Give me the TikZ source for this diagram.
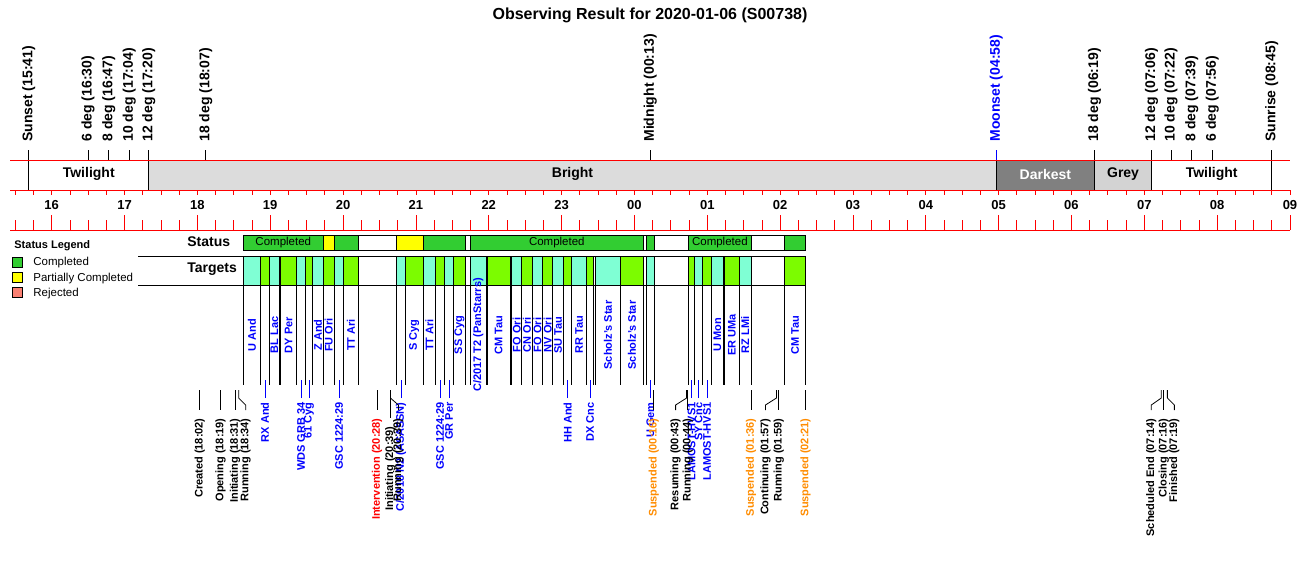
\documentclass[tikz,border=0pt]{standalone}
\usepackage{fontspec}
\setmainfont{Liberation Sans}
\definecolor{bright}{RGB}{220,220,220}
\definecolor{darkest}{RGB}{128,128,128}
\definecolor{greyband}{RGB}{211,211,211}
\definecolor{done}{RGB}{50,205,50}
\definecolor{partial}{RGB}{255,255,0}
\definecolor{rejected}{RGB}{250,128,114}
\definecolor{tgtA}{RGB}{127,255,212}
\definecolor{tgtB}{RGB}{124,252,0}
\definecolor{susp}{RGB}{255,140,0}
\newcommand{\fs}[1]{\fontsize{#1}{#1}\selectfont}

\begin{document}
\begin{tikzpicture}[x=1pt,y=-1pt,line width=0.8pt,
    declare function={tx(\hr,\mn)=51.7+72.84*(mod(\hr+9,24)-1+\mn/60);},
    toplbl/.style={rotate=90,anchor=west,inner sep=0pt,font=\fs{14}\bfseries},
    bandlbl/.style={font=\fs{14}\bfseries},
    hourlbl/.style={font=\fs{13}\bfseries},
    rowlbl/.style={anchor=west,inner sep=0pt,font=\fs{14}\bfseries},
    leglbl/.style={anchor=west,inner sep=0pt,font=\fs{11.5}},
    tgtlbl/.style={rotate=90,inner sep=0pt,text=blue,font=\fs{11}\bfseries},
    evlbl/.style={rotate=90,anchor=east,inner sep=0pt,font=\fs{11}\bfseries}]
\useasboundingbox (0,0) rectangle (1300,560);

\node[font=\fs{16}\bfseries] (title) at (650,15) {Observing Result for 2020-01-06 (S00738)};

% sky band
\fill[bright] ({tx(17,20)},160) rectangle ({tx(4,58)},190);
\fill[darkest] ({tx(4,58)},160) rectangle ({tx(6,19)},190);
\fill[greyband] ({tx(6,19)},160) rectangle ({tx(7,6)},190);
\draw ({tx(4,58)},160) -- ({tx(4,58)},190);
\node[bandlbl] (tw1) at ({(tx(15,41)+tx(17,20))/2},174) {Twilight};
\node[bandlbl] (br) at ({(tx(17,20)+tx(4,58))/2},174) {Bright};
\node[bandlbl,text=white] (dk) at ({(tx(4,58)+tx(6,19))/2},174) {Darkest};
\node[bandlbl] (gr) at ({(tx(6,19)+tx(7,6))/2},174) {Grey};
\node[bandlbl] (tw2) at ({(tx(7,6)+tx(8,45))/2},174) {Twilight};

\foreach \lab/\h/\m/\yb/\col [count=\k] in {
    Sunset (15:41)/15/41/190/black, 6 deg (16:30)/16/30/160/black,
    8 deg (16:47)/16/47/160/black, 10 deg (17:04)/17/4/160/black,
    12 deg (17:20)/17/20/190/black, 18 deg (18:07)/18/7/160/black,
    Midnight (00:13)/0/13/160/black, Moonset (04:58)/4/58/160/blue,
    18 deg (06:19)/6/19/190/black, 12 deg (07:06)/7/6/190/black,
    10 deg (07:22)/7/22/160/black, 8 deg (07:39)/7/39/160/black,
    6 deg (07:56)/7/56/160/black, Sunrise (08:45)/8/45/190/black}
{
  \node[toplbl,text=\col] (top\k) at ({tx(\h,\m)},142) {\lab};
  \draw[\col] ([yshift=-8pt]top\k.west) -- ({tx(\h,\m)},\yb);
}

% time axis
\draw[red,line width=1pt] (10,160) -- (1290,160) (10,190) -- (1290,190) (10,230) -- (1290,230);
\foreach \q in {-2,...,68}{
  \pgfmathtruncatemacro\r{mod(\q+8,4)}
  \draw[red] ({51.7+18.21*\q},190) -- ++(0,5);
  \ifnum\r=0
    \draw[red] ({51.7+18.21*\q},230) -- ++(0,-15);
  \else
    \draw[red] ({51.7+18.21*\q},230) -- ++(0,-10);
  \fi
}
\foreach \i in {0,...,17}{
  \pgfmathtruncatemacro\hh{mod(\i+16,24)}
  \node[hourlbl] (hr\i) at ({51.7+72.84*\i},205) {\ifnum\hh<10 0\fi\hh};
}

% legend
\node[anchor=west,inner sep=0pt,font=\fs{11}\bfseries] (leg) at (14,246) {Status Legend};
\draw[fill=done] (12,257.5) rectangle (22,267.5);
\draw[fill=partial] (12,272.5) rectangle (22,282.5);
\draw[fill=rejected] (12,287.5) rectangle (22,297.5);
\node[leglbl] (leg1) at (33,263) {Completed};
\node[leglbl] (leg2) at (33,278.5) {Partially Completed};
\node[leglbl] (leg3) at (33,293.5) {Rejected};

% status row
\node[rowlbl] (status) at (187,242) {Status};
\foreach \xa/\xb/\fillc/\txt [count=\k] in {
    243.3/323.3/done/Completed, 323.3/334.3/partial/, 334.3/358.3/done/,
    358.3/396.7/white/, 396.7/423.3/partial/, 423.3/465/done/,
    465/470.3/white/, 470.3/643.3/done/Completed, 643.3/646.3/white/,
    646.3/654.3/done/, 654.3/688.7/white/, 688.7/751/done/Completed,
    751/784.3/white/, 784.3/805.7/done/}
{
  \draw[fill=\fillc] (\xa,235) rectangle (\xb,250);
  \node[font=\fs{11.5}] (st\k) at ({(\xa+\xb)/2},242.5) {\txt};
}

% targets row
\node[rowlbl] (targets) at (187,269) {Targets};
\draw (138,256) -- (805.7,256) (138,285) -- (805.7,285);
\foreach \xa/\xb/\tname/\tier [count=\k] in {
    243.3/260.7/U And/m, 260.7/269.3/RX And/l, 269.3/279.3/BL Lac/m,
    280.7/296.7/DY Per/m, 296.7/305.3/WDS GRB 34/l, 305.3/312.7/61 Cyg/l,
    312.7/323.3/Z And/m, 323.3/334.3/FU Ori/m, 334.3/343.7/GSC 1224:29/l,
    343.7/358.3/TT Ari/m, 396.7/405.3/{C/2018 N2 (ASASSN)}/l, 405.3/423.3/S Cyg/m,
    423.3/435.7/TT Ari/m, 435.7/444.3/GSC 1224:29/l, 444.3/453.7/GR Per/l,
    453.7/465/SS Cyg/m, 470.7/486/{C/2017 T2 (PanStarrs)}/m, 487.3/510/CM Tau/m,
    511.7/521.7/FO Ori/m, 521.7/532.3/CN Ori/m, 532.3/542.7/FO Ori/m,
    542.7/552.7/NV Ori/m, 552.7/563.7/SU Tau/m, 563.7/571.7/HH And/l,
    571.7/586.7/RR Tau/m, 586.7/593.3/DX Cnc/l, 595.3/620.7/Scholz's Star/m,
    620.7/643.3/Scholz's Star/m, 646.3/654.3/U Gem/l, 688.7/694.3/LAMOST-HVS1/l,
    694.3/702.7/SY Cnc/l, 702.7/711.7/LAMOST-HVS1/l, 711.7/723.3/U Mon/m,
    724.3/739.3/ER UMa/m, 739.3/751/RZ LMi/m, 784.3/805.7/CM Tau/m}
{
  \ifodd\k \def\cellc{tgtA}\else \def\cellc{tgtB}\fi
  \draw[fill=\cellc] (\xa,256) rectangle (\xb,285);
  \draw (\xa,285) -- (\xa,385) (\xb,285) -- (\xb,385);
  \if\tier m
    \node[tgtlbl] (tg\k) at ({(\xa+\xb)/2},335) {\tname};
  \else
    \node[tgtlbl,anchor=east] (tg\k) at ({(\xa+\xb)/2},402) {\tname};
    \draw[blue] (tg\k.east) ++(0,-4) -- ++(0,-18);
  \fi
}

% events
\foreach \lab/\h/\m/\col/\dx/\ty [count=\k] in {
    Created (18:02)/18/2/black/0/418, Opening (18:19)/18/19/black/0/418,
    Initiating (18:31)/18/31/black/0/418, Running (18:34)/18/34/black/7/418,
    Intervention (20:28)/20/28/red/0/418, Initiating (20:39)/20/39/black/0/426,
    Running (20:39)/20/39/black/8/418, Suspended (00:16)/0/16/susp/0/418,
    Resuming (00:43)/0/43/black/-11/418, Running (00:44)/0/44/black/0/418,
    Suspended (01:36)/1/36/susp/0/418, Continuing (01:57)/1/57/black/-11/418,
    Running (01:59)/1/59/black/0/418, Suspended (02:21)/2/21/susp/0/418,
    Scheduled End (07:14)/7/14/black/-10/418, Closing (07:16)/7/16/black/0/418,
    Finished (07:19)/7/19/black/7/418}
{
  \coordinate (ev\k) at ({tx(\h,\m)},390);
  \node[evlbl,text=\col] (evl\k) at ({tx(\h,\m)+(\dx)},\ty) {\lab};
  \draw (ev\k) -- ++(0,8) -- ([yshift=13pt]evl\k.east) -- ([yshift=8pt]evl\k.east);
}
\end{tikzpicture}
\end{document}
